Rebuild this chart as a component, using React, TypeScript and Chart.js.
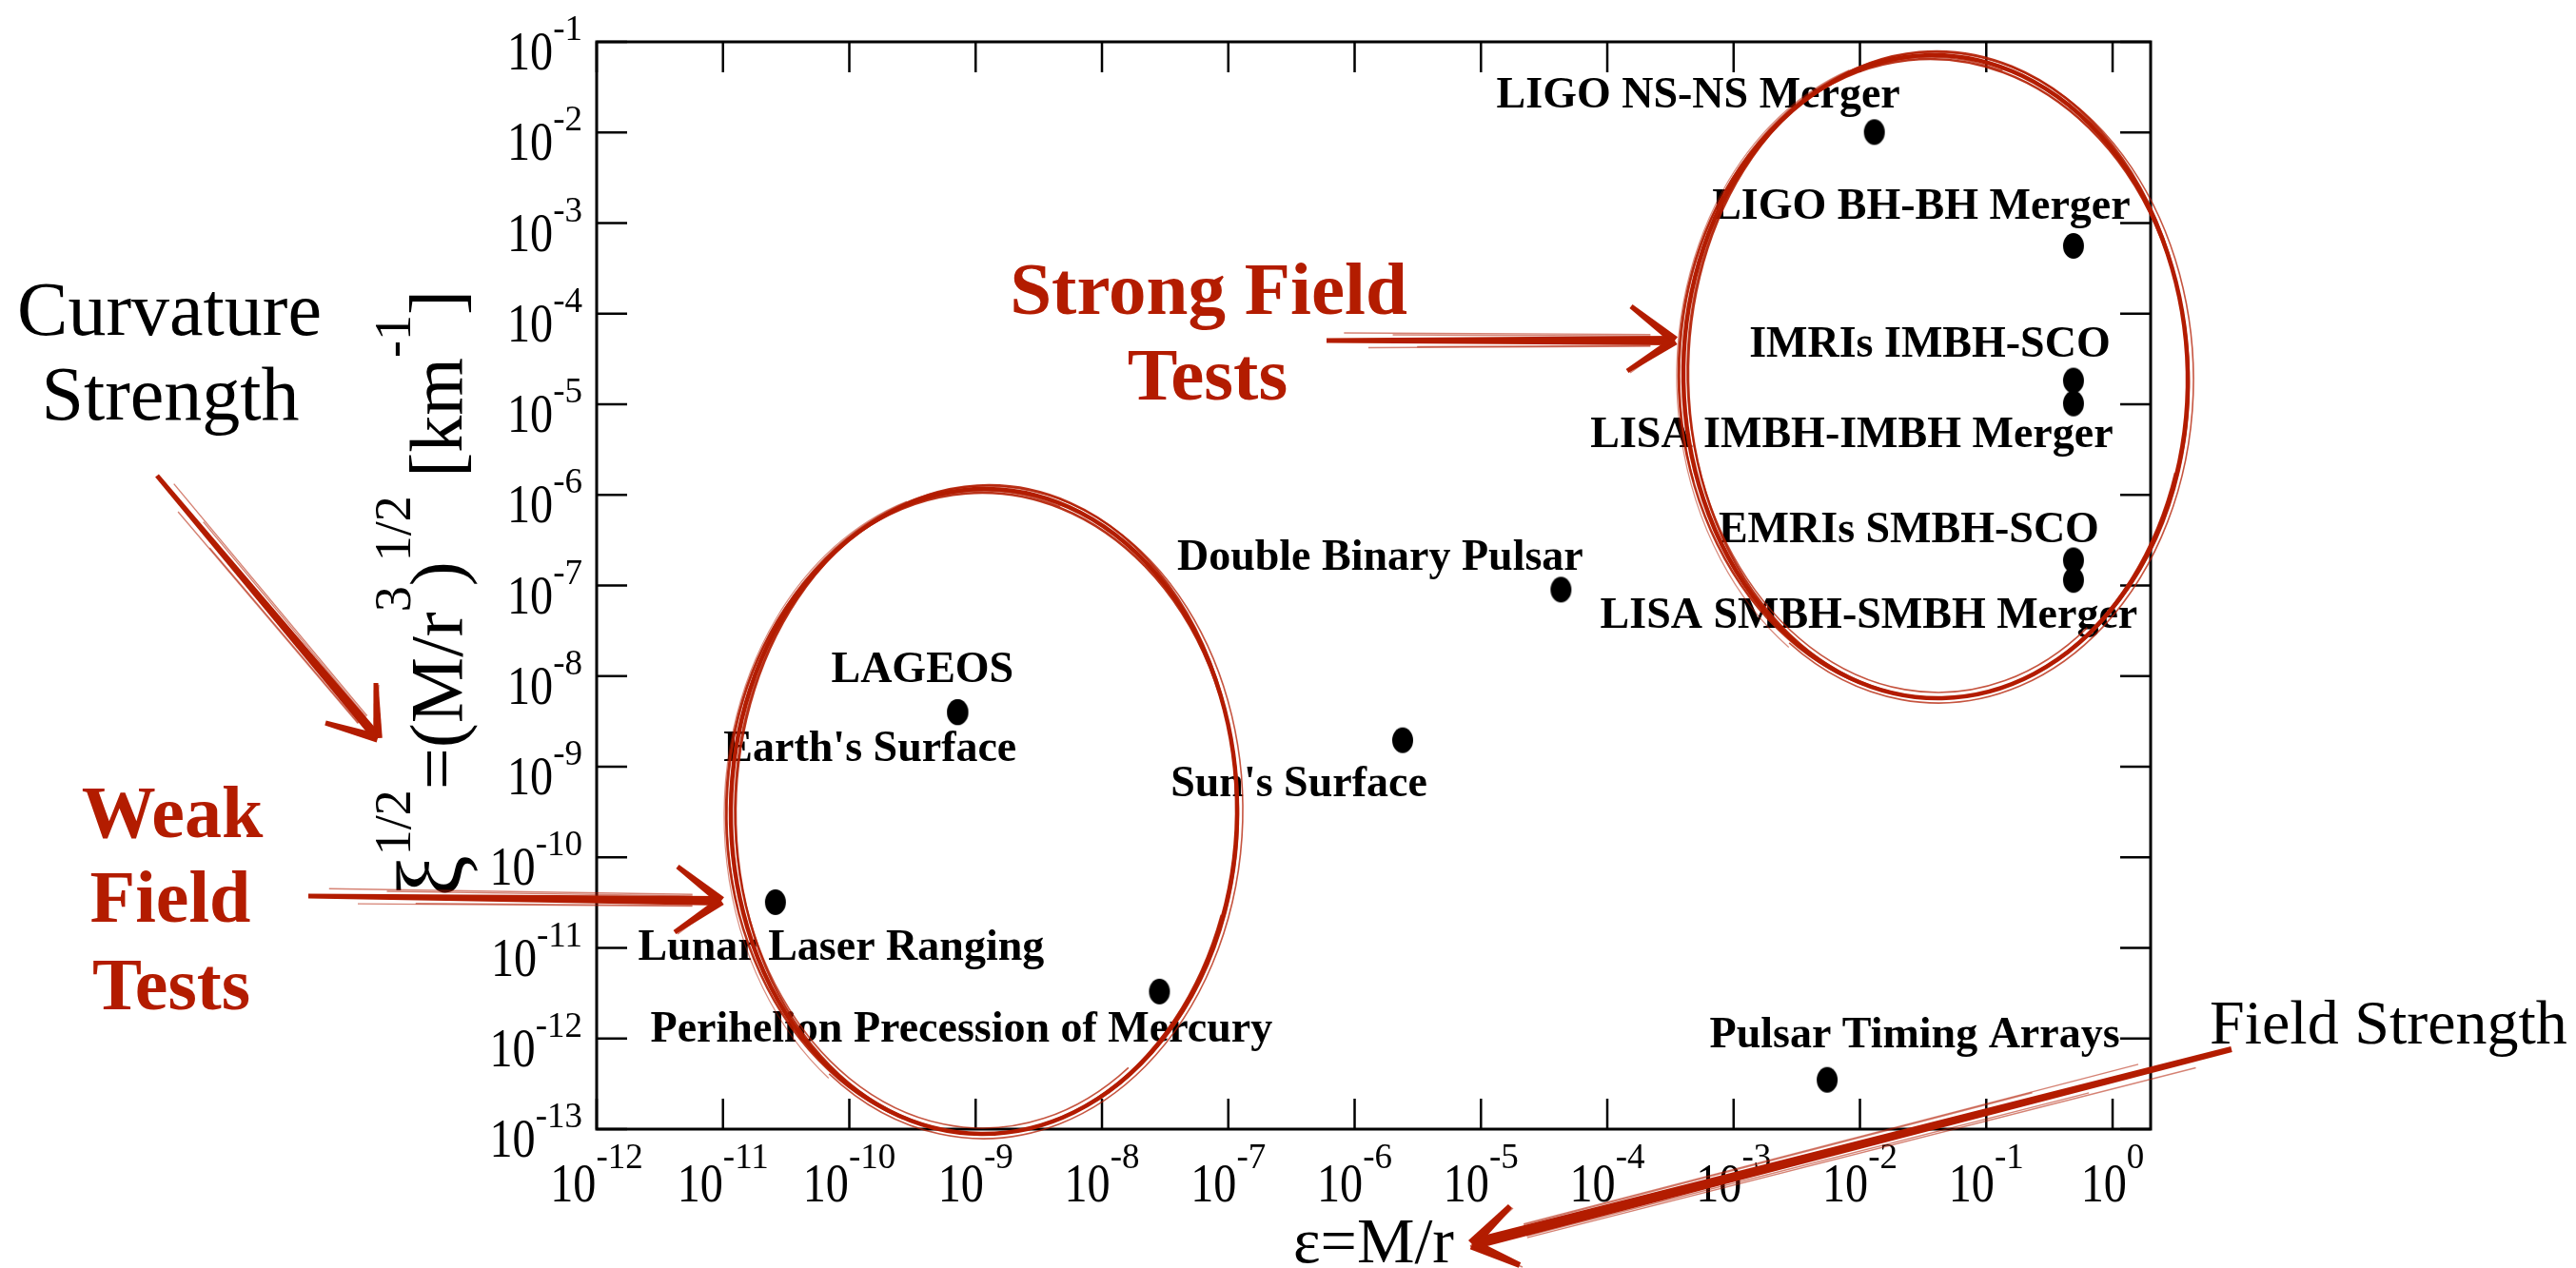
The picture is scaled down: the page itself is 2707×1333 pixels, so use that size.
import React, { useEffect, useRef } from "react";
import { Chart, registerables } from "chart.js";

Chart.register(...registerables);

// ---------------- data ----------------
const testNames = [
  "LIGO NS-NS Merger",
  "LIGO BH-BH Merger",
  "IMRIs IMBH-SCO",
  "LISA IMBH-IMBH Merger",
  "EMRIs SMBH-SCO",
  "LISA SMBH-SMBH Merger",
  "Double Binary Pulsar",
  "LAGEOS",
  "Earth's Surface",
  "Sun's Surface",
  "Lunar Laser Ranging",
  "Perihelion Precession of Mercury",
  "Pulsar Timing Arrays",
];
// field strength  epsilon = M/r
const fieldStrength = [0.013, 0.49, 0.49, 0.49, 0.49, 0.49, 4.3e-5, 7.2e-10, 7.2e-10, 2.4e-6, 2.6e-11, 2.85e-8, 5.5e-3];
// curvature strength  xi^(1/2) [km^-1]
const curvatureStrength = [0.0101, 5.6e-4, 1.83e-5, 1.02e-5, 1.9e-7, 1.15e-7, 9.0e-8, 4.0e-9, 4.0e-9, 1.96e-9, 3.2e-11, 3.3e-12, 3.5e-13];

const xTickValues = [1e-12, 1e-11, 1e-10, 1e-9, 1e-8, 1e-7, 1e-6, 1e-5, 1e-4, 1e-3, 1e-2, 1e-1, 1];
const xTickExponents = ["-12", "-11", "-10", "-9", "-8", "-7", "-6", "-5", "-4", "-3", "-2", "-1", "0"];
const yTickValues = [1e-13, 1e-12, 1e-11, 1e-10, 1e-9, 1e-8, 1e-7, 1e-6, 1e-5, 1e-4, 1e-3, 1e-2, 1e-1];
const yTickExponents = ["-13", "-12", "-11", "-10", "-9", "-8", "-7", "-6", "-5", "-4", "-3", "-2", "-1"];

const xMin = 1e-12;
const xMax = 2;
const yMin = 1e-13;
const yMax = 0.1;

// ---------------- layout / style ----------------
// label placement relative to its point, in pixels: [dx of text centre, dy of baseline]
const labelOffsets: [number, number][] = [
  [-185, -26],
  [-160, -28],
  [-151, -25],
  [-233, 46],
  [-173, -19],
  [-215, 50],
  [-190, -21],
  [-37, -32],
  [-92, 51],
  [-109, 59],
  [69, 61],
  [-208, 53],
  [92, -34],
];

const RED = "#b31c00";
const SERIF = '"Liberation Serif", "Times New Roman", Times, serif';

type Pt = [number, number];

function taper(ctx: CanvasRenderingContext2D, a: Pt, b: Pt, w1: number, w2: number) {
  const dx = b[0] - a[0];
  const dy = b[1] - a[1];
  const L = Math.hypot(dx, dy) || 1;
  const nx = -dy / L;
  const ny = dx / L;
  ctx.beginPath();
  ctx.moveTo(a[0] + (nx * w1) / 2, a[1] + (ny * w1) / 2);
  ctx.lineTo(b[0] + (nx * w2) / 2, b[1] + (ny * w2) / 2);
  ctx.lineTo(b[0] - (nx * w2) / 2, b[1] - (ny * w2) / 2);
  ctx.lineTo(a[0] - (nx * w1) / 2, a[1] - (ny * w1) / 2);
  ctx.closePath();
  ctx.fill();
}

function sketchArrow(ctx: CanvasRenderingContext2D, start: Pt, tip: Pt, barb1: Pt, barb2: Pt, w: number) {
  ctx.save();
  ctx.fillStyle = RED;
  ctx.strokeStyle = RED;
  taper(ctx, start, tip, w * 0.5, w);
  taper(ctx, barb1, tip, w * 0.5, w * 0.95);
  taper(ctx, barb2, tip, w * 0.5, w * 0.95);
  // sketchy fringe
  const dx = tip[0] - start[0];
  const dy = tip[1] - start[1];
  const L = Math.hypot(dx, dy);
  const nx = -dy / L;
  const ny = dx / L;
  ctx.globalAlpha = 0.55;
  ctx.lineWidth = 1.4;
  const offs = [-0.8, 0.75, -0.6, 0.65];
  offs.forEach((o, i) => {
    const f0 = 0.05 + i * 0.07;
    ctx.beginPath();
    ctx.moveTo(start[0] + dx * f0 + nx * o * w, start[1] + dy * f0 + ny * o * w);
    ctx.lineTo(start[0] + dx * 0.93 + nx * o * w * 0.8, start[1] + dy * 0.93 + ny * o * w * 0.8);
    ctx.stroke();
  });
  [barb1, barb2].forEach((b) => {
    ctx.beginPath();
    ctx.moveTo(b[0] + 3, b[1] + 2);
    ctx.lineTo(tip[0] - 2, tip[1] + 2);
    ctx.stroke();
  });
  ctx.restore();
}

const ellipsePasses = [
  { dx: 0, dy: 0, drx: 0, dry: 0, rot: 0, w: 4.5, a: 1, s: 0, e: 2 },
  { dx: 2, dy: -2, drx: -3, dry: 2, rot: 0.012, w: 2.5, a: 0.9, s: 0.1, e: 1.9 },
  { dx: -2, dy: 2, drx: 3, dry: -2, rot: -0.01, w: 2.5, a: 0.9, s: 0.6, e: 2.4 },
  { dx: 1, dy: 1, drx: 5, dry: 4, rot: 0.006, w: 1.6, a: 0.75, s: 0.9, e: 2.7 },
  { dx: -1, dy: -2, drx: -5, dry: -4, rot: -0.008, w: 1.6, a: 0.75, s: 0.3, e: 1.6 },
  { dx: 0, dy: 3, drx: 7, dry: 6, rot: 0.0, w: 1.2, a: 0.5, s: 0.7, e: 1.4 },
];

function sketchEllipse(ctx: CanvasRenderingContext2D, cx: number, cy: number, rx: number, ry: number, rot: number) {
  ctx.save();
  ctx.strokeStyle = RED;
  ellipsePasses.forEach((p) => {
    ctx.globalAlpha = p.a;
    ctx.lineWidth = p.w;
    ctx.beginPath();
    ctx.ellipse(cx + p.dx, cy + p.dy, rx + p.drx, ry + p.dry, rot + p.rot, p.s * Math.PI, p.e * Math.PI);
    ctx.stroke();
  });
  ctx.restore();
}

function drawPower(
  ctx: CanvasRenderingContext2D,
  exp: string,
  anchorX: number,
  baseY: number,
  raise: number,
  mode: "center" | "right"
) {
  const squeeze = 0.86;
  ctx.font = `56px ${SERIF}`;
  const w10 = ctx.measureText("10").width * squeeze;
  ctx.font = `37px ${SERIF}`;
  const we = ctx.measureText(exp).width;
  const sx = mode === "center" ? anchorX - (w10 + we) / 2 : anchorX - (w10 + we);
  ctx.save();
  ctx.translate(sx, baseY);
  ctx.scale(squeeze, 1);
  ctx.font = `56px ${SERIF}`;
  ctx.fillText("10", 0, 0);
  ctx.restore();
  ctx.font = `37px ${SERIF}`;
  ctx.fillText(exp, sx + w10, baseY - raise);
}

function drawAxes(chart: any) {
  const { ctx, chartArea } = chart;
  const { left, right, top, bottom } = chartArea;
  const xs = chart.scales.x;
  const ys = chart.scales.y;
  ctx.save();
  ctx.strokeStyle = "#000";
  ctx.fillStyle = "#000";
  ctx.lineWidth = 2.5;
  const tick = 32;
  ctx.beginPath();
  xTickValues.forEach((v) => {
    const p = xs.getPixelForValue(v);
    ctx.moveTo(p, bottom);
    ctx.lineTo(p, bottom - tick);
    ctx.moveTo(p, top);
    ctx.lineTo(p, top + tick);
  });
  yTickValues.forEach((v) => {
    const p = ys.getPixelForValue(v);
    ctx.moveTo(left, p);
    ctx.lineTo(left + tick, p);
    ctx.moveTo(right, p);
    ctx.lineTo(right - tick, p);
  });
  ctx.stroke();
  ctx.lineWidth = 3;
  ctx.strokeRect(left, top, right - left, bottom - top);

  ctx.textAlign = "left";
  ctx.textBaseline = "alphabetic";
  xTickValues.forEach((v, i) => {
    drawPower(ctx, xTickExponents[i], xs.getPixelForValue(v), bottom + 76, 35, "center");
  });
  yTickValues.forEach((v, i) => {
    drawPower(ctx, yTickExponents[i], left - 15, ys.getPixelForValue(v) + 29, 31, "right");
  });

  // x title
  ctx.font = `68px ${SERIF}`;
  ctx.textAlign = "center";
  ctx.fillText("\u03b5=M/r", (left + right) / 2, bottom + 140);

  // y title (rotated, with superscripts)
  const segs: [string, number][] = [
    ["\u03be", 2],
    ["1/2", 1],
    ["=(M/r", 0],
    ["3", 1],
    [")", 0],
    ["1/2", 1],
    [" [km", 0],
    ["-1", 1],
    ["]", 0],
  ];
  const fonts = [`78px ${SERIF}`, `54px ${SERIF}`, `98px ${SERIF}`];
  let total = 0;
  const widths = segs.map(([t, k]) => {
    ctx.font = fonts[k];
    const w = ctx.measureText(t).width;
    total += w;
    return w;
  });
  ctx.save();
  ctx.translate(left - 142, 624);
  ctx.rotate(-Math.PI / 2);
  ctx.textAlign = "left";
  let cx = -total / 2;
  segs.forEach(([t, k], i) => {
    ctx.font = fonts[k];
    ctx.fillText(t, cx, k === 1 ? -54 : 0);
    cx += widths[i];
  });
  ctx.restore();
  ctx.restore();
}

function drawLabels(chart: any) {
  const { ctx } = chart;
  const xs = chart.scales.x;
  const ys = chart.scales.y;
  ctx.save();
  ctx.fillStyle = "#000";
  ctx.font = `bold 46px ${SERIF}`;
  ctx.textAlign = "center";
  ctx.textBaseline = "alphabetic";
  testNames.forEach((name, i) => {
    const px = xs.getPixelForValue(fieldStrength[i]);
    const py = ys.getPixelForValue(curvatureStrength[i]);
    ctx.fillText(name, px + labelOffsets[i][0], py + labelOffsets[i][1]);
  });
  ctx.restore();
}

function drawAnnotations(chart: any) {
  const { ctx } = chart;
  ctx.save();
  ctx.textAlign = "center";
  ctx.textBaseline = "alphabetic";
  // black side captions
  ctx.fillStyle = "#000";
  ctx.font = `80px ${SERIF}`;
  ctx.fillText("Curvature", 178, 352);
  ctx.fillText("Strength", 179, 441);
  ctx.font = `66px ${SERIF}`;
  ctx.textAlign = "left";
  ctx.fillText("Field Strength", 2322, 1097);

  // red captions
  ctx.fillStyle = RED;
  ctx.textAlign = "center";
  ctx.font = `bold 78px ${SERIF}`;
  ctx.fillText("Weak", 181, 880);
  ctx.fillText("Field", 179, 969);
  ctx.fillText("Tests", 180, 1061);
  ctx.font = `bold 79px ${SERIF}`;
  ctx.fillText("Strong Field", 1270, 330);
  ctx.fillText("Tests", 1269, 420);

  // ellipses
  sketchEllipse(ctx, 2034, 396, 265, 338, -0.02);
  sketchEllipse(ctx, 1034, 853, 266, 339, 0.01);

  // arrows
  sketchArrow(ctx, [165, 500], [397, 776], [342, 760], [395, 718], 10);
  sketchArrow(ctx, [324, 942], [758, 947], [712, 911], [709, 980], 10);
  sketchArrow(ctx, [1394, 358], [1760, 358], [1714, 322], [1710, 390], 10);
  sketchArrow(ctx, [2345, 1103], [1547, 1308], [1587, 1268], [1597, 1330], 12);
  ctx.restore();
}

const figurePlugin = {
  id: "figureDecor",
  beforeDraw(chart: any) {
    const { ctx, width, height } = chart;
    ctx.save();
    ctx.fillStyle = "#fff";
    ctx.fillRect(0, 0, width, height);
    ctx.restore();
  },
  beforeDatasetsDraw(chart: any) {
    drawAxes(chart);
  },
  afterDatasetsDraw(chart: any) {
    drawLabels(chart);
    drawAnnotations(chart);
  },
};

export default function App() {
  const ref = useRef<HTMLCanvasElement>(null);
  useEffect(() => {
    const canvas = ref.current;
    if (!canvas) return;
    const dot = document.createElement("canvas");
    dot.width = 24;
    dot.height = 29;
    const dctx = dot.getContext("2d")!;
    dctx.fillStyle = "#000";
    dctx.beginPath();
    dctx.ellipse(12, 14.5, 11, 13.5, 0, 0, Math.PI * 2);
    dctx.fill();

    const chart = new Chart(canvas, {
      type: "scatter",
      data: {
        datasets: [
          {
            label: "Tests of gravity",
            data: fieldStrength.map((x, i) => ({ x, y: curvatureStrength[i] })),
            pointStyle: dot as any,
            backgroundColor: "#000",
            borderColor: "#000",
          },
        ],
      },
      options: {
        animation: false,
        responsive: false,
        devicePixelRatio: 1,
        events: [],
        layout: { padding: { left: 627, right: 447, top: 44, bottom: 146 } },
        plugins: { legend: { display: false }, tooltip: { enabled: false }, title: { display: false } },
        scales: {
          x: { type: "logarithmic", min: xMin, max: xMax, bounds: "data", display: false },
          y: { type: "logarithmic", min: yMin, max: yMax, bounds: "data", display: false },
        },
      },
      plugins: [figurePlugin],
    });
    return () => chart.destroy();
  }, []);
  return (
    <div style={{ position: "fixed", left: 0, top: 0, width: 2707, height: 1333, background: "#fff" }}>
      <canvas ref={ref} width={2707} height={1333} style={{ display: "block", width: 2707, height: 1333 }} />
    </div>
  );
}
